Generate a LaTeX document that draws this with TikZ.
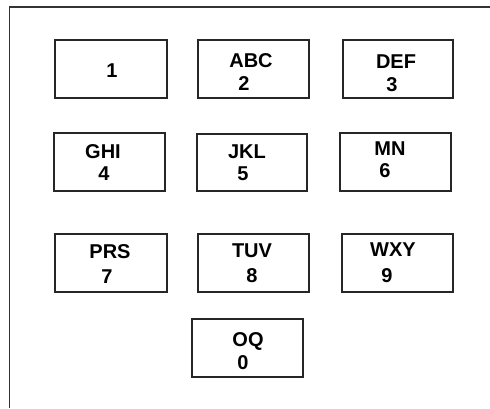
\documentclass[tikz,border=0pt]{standalone}
\usepackage{fontspec}
\setmainfont{Liberation Sans}
\begin{document}
\begin{tikzpicture}[x=1pt,y=-1pt,
  key/.style={draw=black!85,line width=1.1pt,fill=none},
  lbl/.style={anchor=base,inner sep=0pt,font=\fontsize{20}{23}\selectfont\bfseries}]
\useasboundingbox (0,0) rectangle (490,408);
% frame
\draw[line width=1.2pt,draw=black!80] (9.5,408) -- (9.5,7) -- (490,7);
% keys
\draw[key] (55,40) rectangle (167,98);
\draw[key] (198,40) rectangle (309,98);
\draw[key] (343,40) rectangle (453,98);
\draw[key] (54,133) rectangle (165,191);
\draw[key] (197,134) rectangle (307,191);
\draw[key] (340,133) rectangle (451,191);
\draw[key] (55,234) rectangle (167,292);
\draw[key] (198,234) rectangle (309,292);
\draw[key] (342,234) rectangle (453,292);
\draw[key] (192,319) rectangle (303,377);
% labels
\node[lbl] (k1) at (112,77) {1};
\node[lbl] (k2a) at (251,67) {ABC};
\node[lbl] (k2b) at (244,90) {2};
\node[lbl] (k3a) at (396,68) {DEF};
\node[lbl] (k3b) at (392,91) {3};
\node[lbl] (k4a) at (103,158) {GHI};
\node[lbl] (k4b) at (104,180) {4};
\node[lbl] (k5a) at (247,158) {JKL};
\node[lbl] (k5b) at (243,180) {5};
\node[lbl] (k6a) at (390,155) {MN};
\node[lbl] (k6b) at (385,177) {6};
\node[lbl] (k7a) at (110,258) {PRS};
\node[lbl] (k7b) at (107,283) {7};
\node[lbl] (k8a) at (252,257) {TUV};
\node[lbl] (k8b) at (252,282) {8};
\node[lbl] (k9a) at (393,256) {WXY};
\node[lbl] (k9b) at (387,282) {9};
\node[lbl] (k0a) at (248,346) {OQ};
\node[lbl] (k0b) at (243,369) {0};
\end{tikzpicture}
\end{document}
